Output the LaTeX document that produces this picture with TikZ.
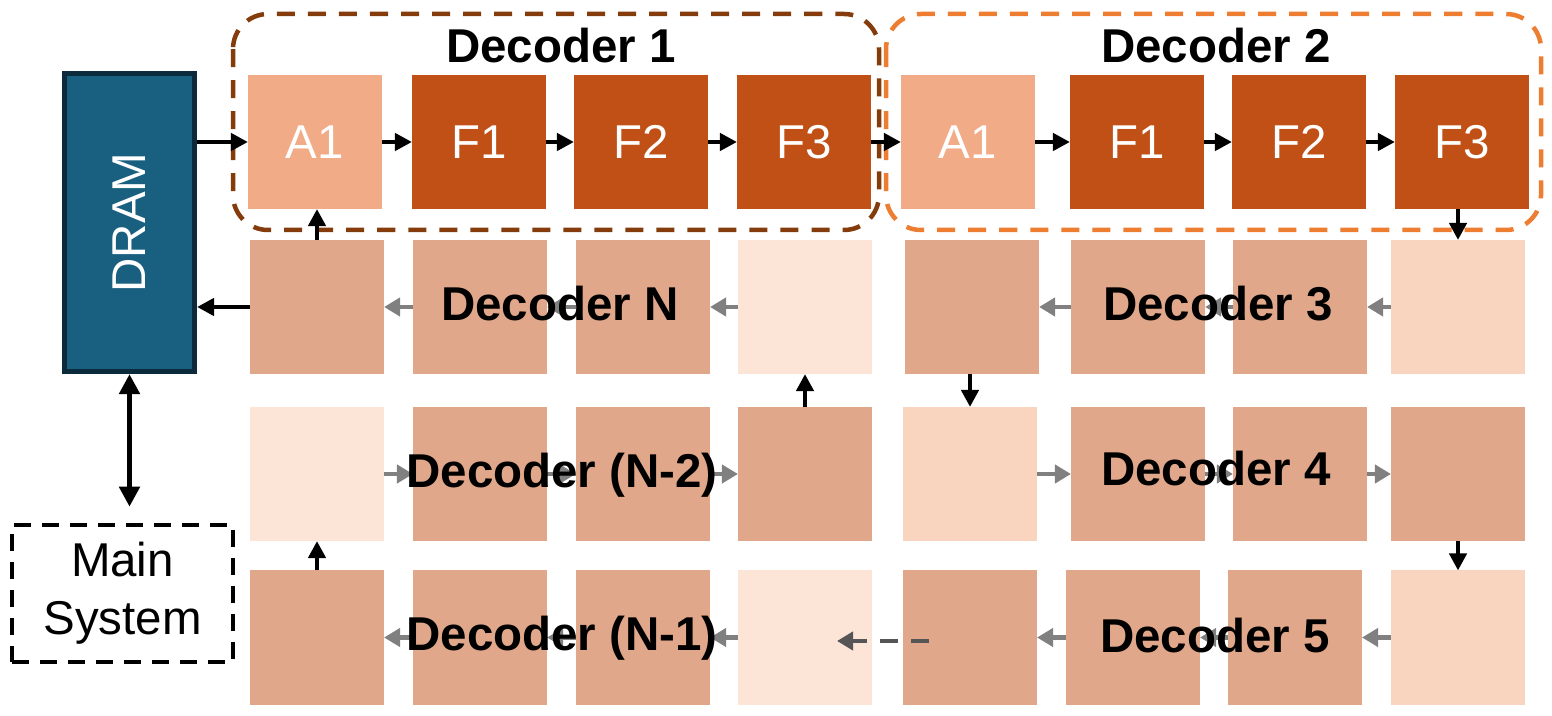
\documentclass[tikz,border=0pt]{standalone}
\usepackage{fontspec}
\setmainfont{Liberation Sans}
\usetikzlibrary{arrows.meta}

\definecolor{ffnorange}{HTML}{C05016}
\definecolor{attnpeach}{HTML}{F1AB86}
\definecolor{midpeach}{HTML}{E1A78A}
\definecolor{palepeach}{HTML}{FCE4D6}
\definecolor{softpeach}{HTML}{F9D5C0}
\definecolor{dramblue}{HTML}{185F80}
\definecolor{dramedge}{HTML}{0B2B3C}
\definecolor{decbrown}{HTML}{843C0C}
\definecolor{decorange}{HTML}{ED7D31}
\definecolor{flowgray}{HTML}{808080}
\definecolor{skipgray}{HTML}{555555}

\tikzset{
  tile/.style={minimum width=1.34cm, minimum height=1.34cm, inner sep=0pt, outer sep=0pt},
  tiletext/.style={text=white, font=\fontsize{13.5}{16}\selectfont},
  declabel/.style={anchor=base, inner sep=0pt, font=\fontsize{13.5}{16}\selectfont\bfseries},
  blk/.style={-{Triangle[length=0.17cm, width=0.17cm]}, line width=0.045cm},
  gry/.style={-{Triangle[length=0.16cm, width=0.18cm]}, draw=flowgray, line width=0.045cm},
  decbox/.style={line width=0.045cm, rounded corners=0.35cm, dash pattern=on 0.18cm off 0.13cm}
}

\begin{document}
\begin{tikzpicture}[x=0.01cm, y=-0.01cm]

  % Picture frame
  \useasboundingbox (0,0) rectangle (1552,716);

  % DRAM and main system
  \node[draw=dramedge, fill=dramblue, line width=0.05cm, minimum width=1.30cm,
        minimum height=2.98cm, inner sep=0pt] (dram) at (129.5,222.5) {};
  \node[rotate=90, text=white, font=\fontsize{13.5}{16}\selectfont] (dramtxt) at (dram.center) {DRAM};
  \node[draw, line width=0.045cm, dash pattern=on 0.17cm off 0.11cm, minimum width=2.21cm,
        minimum height=1.37cm, align=center, font=\fontsize{13.5}{16.5}\selectfont] (main)
        at (122.5,593.5) {Main\\System};

  % Decoder 1 and decoder 2 (top row)
  \foreach \nm/\x/\clr/\txt in {d1a/315/attnpeach/A1, d1f1/479/ffnorange/F1,
      d1f2/641/ffnorange/F2, d1f3/804/ffnorange/F3, d2a/968/attnpeach/A1,
      d2f1/1137/ffnorange/F1, d2f2/1299/ffnorange/F2, d2f3/1462/ffnorange/F3}
    \node[tile, fill=\clr, tiletext] (\nm) at (\x,142) {\txt};

  % Remaining decoders
  \foreach \c/\x/\clr in {1/317/midpeach, 2/480/midpeach, 3/643/midpeach, 4/805/palepeach,
      5/972/midpeach, 6/1138/midpeach, 7/1300/midpeach, 8/1458/softpeach}
    \node[tile, fill=\clr] (r2c\c) at (\x,307) {};
  \foreach \c/\x/\clr in {1/317/palepeach, 2/480/midpeach, 3/643/midpeach, 4/805/midpeach,
      5/970/softpeach, 6/1138/midpeach, 7/1300/midpeach, 8/1458/midpeach}
    \node[tile, fill=\clr] (r3c\c) at (\x,474) {};
  \foreach \c/\x/\clr in {1/317/midpeach, 2/480/midpeach, 3/643/midpeach, 4/805/palepeach,
      5/970/midpeach, 6/1133/midpeach, 7/1295/midpeach, 8/1458/softpeach}
    \node[tile, fill=\clr] (r4c\c) at (\x,637.5) {};

  % Decoder frames
  \draw[decbox, draw=decbrown] (233,14) rectangle (879,230);
  \draw[decbox, draw=decorange] (886,14) rectangle (1541,230);

  % Data flow
  \draw[blk] (dram.east |- d1a.west) -- (d1a.west);
  \foreach \a/\b in {d1a/d1f1, d1f1/d1f2, d1f2/d1f3, d1f3/d2a, d2a/d2f1, d2f1/d2f2, d2f2/d2f3}
    \draw[blk] (\a.east) -- (\b.west);
  \draw[blk] (r2c8.north |- d2f3.south) -- (r2c8.north);
  \foreach \a/\b in {2/1, 3/2, 4/3, 6/5, 7/6, 8/7}
    \draw[gry] (r2c\a.west) -- (r2c\b.east);
  \draw[blk] (r3c5.north |- r2c5.south) -- (r3c5.north);
  \foreach \a/\b in {1/2, 2/3, 3/4, 5/6, 6/7, 7/8}
    \draw[gry] (r3c\a.east) -- (r3c\b.west);
  \draw[blk] (r3c8.south) -- (r4c8.north);
  \foreach \a/\b in {2/1, 3/2, 4/3, 6/5, 7/6, 8/7}
    \draw[gry] (r4c\a.west) -- (r4c\b.east);
  \coordinate (skipS) at (929,641);
  \coordinate (skipE) at (837,641);
  \draw[gry, draw=skipgray, dash pattern=on 0.18cm off 0.13cm] (skipS) -- (skipE);
  \draw[blk] (r4c1.north) -- (r3c1.south);
  \draw[blk] (r3c4.north) -- (r2c4.south);
  \draw[blk] (r2c1.north) -- (r2c1.north |- d1a.south);
  \draw[blk] (r2c1.west) -- (r2c1.west -| dram.east);
  \draw[{Triangle[length=0.2cm, width=0.2cm]}-{Triangle[length=0.2cm, width=0.2cm]},
        line width=0.055cm, shorten >=0.16cm] (dram.south) -- (dram.south |- main.north);

  % Decoder names
  \node[declabel] (lab1) at (561,63) {Decoder 1};
  \node[declabel] (lab2) at (1216,63) {Decoder 2};
  \node[declabel] (labN) at (560,321) {Decoder N};
  \node[declabel] (lab3) at (1218,321) {Decoder 3};
  \node[declabel] (labN2) at (562,488) {Decoder (N-2)};
  \node[declabel] (lab4) at (1216,486) {Decoder 4};
  \node[declabel] (labN1) at (562,650) {Decoder (N-1)};
  \node[declabel] (lab5) at (1215,652) {Decoder 5};

\end{tikzpicture}
\end{document}
